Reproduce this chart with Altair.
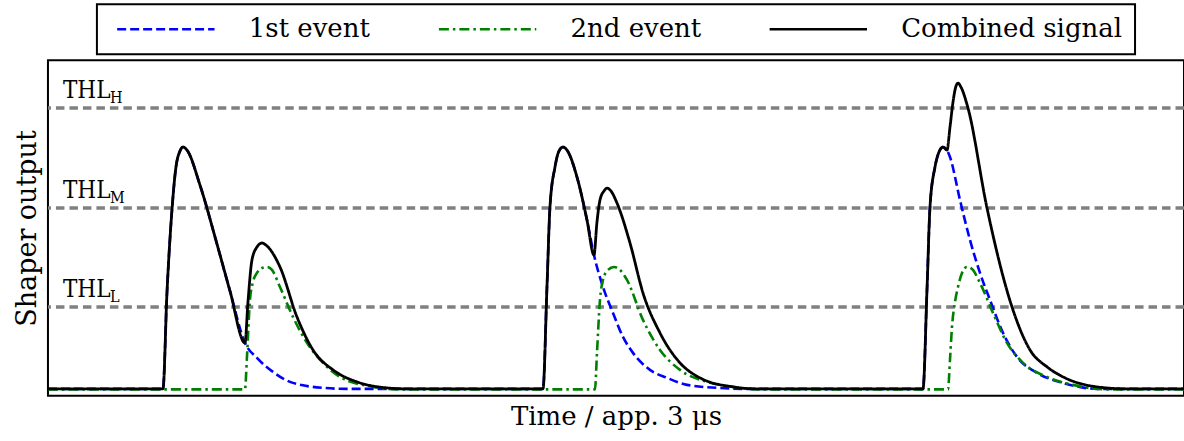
import altair as alt
import pandas as pd

# ---- data (time in arbitrary units, amplitude in arbitrary units)
series_names = ["1st event", "2nd event", "Combined signal"]
series_colors = ["#0000ff", "#008000", "#000000"]
series_dashes = [[9, 4], [10, 4, 2.5, 4], [1, 0]]

combined_t = [1, 116, 120, 125, 129, 133, 136, 140, 153, 170, 183, 198, 201, 205, 210, 215, 220, 233, 250, 266, 286, 310, 340, 360,
              496, 500, 503, 508, 512, 516, 520, 530, 540, 547, 550, 553, 557, 560, 564, 570, 583, 596, 613, 633, 653, 686, 710,
              876, 880, 883, 888, 892, 896, 900, 903, 906, 909, 911, 914, 921, 940, 965, 983, 1000, 1016, 1050, 1080, 1137]
combined_a = [8, 8, 104, 187, 230, 246, 250, 247, 212, 153, 106, 54, 95, 137, 150, 154, 151, 130, 80, 47, 27, 15, 9, 8,
              8, 110, 190, 230, 246, 250, 247, 220, 177, 142, 175, 197, 206, 209, 206, 194, 154, 104, 64, 34, 19, 10, 8,
              8, 107, 190, 230, 245, 250, 247, 270, 295, 311, 314, 310, 289, 189, 90, 47, 30, 20, 10, 8, 8]

first_t = [1, 116, 120, 125, 129, 133, 136, 140, 153, 170, 183, 198, 210, 226, 243, 276, 300,
           496, 500, 503, 508, 512, 516, 520, 530, 540, 547, 556, 566, 576, 586, 603, 620, 640, 670, 700,
           876, 880, 883, 888, 892, 896, 900, 903, 913, 923, 933, 943, 956, 970, 990, 1016, 1050, 1137]
first_a = [8, 8, 104, 187, 230, 246, 250, 247, 212, 153, 106, 54, 39, 25, 15, 9, 8,
           8, 110, 190, 230, 246, 250, 247, 220, 177, 142, 110, 84, 60, 44, 27, 19, 12, 9, 8,
           8, 107, 190, 230, 245, 250, 247, 240, 197, 157, 124, 97, 64, 40, 24, 14, 8, 8]

second_t = [1, 198, 200, 203, 206, 210, 215, 220, 225, 233, 246, 260, 276, 293, 326, 350,
            548, 550, 553, 556, 561, 567, 572, 580, 596, 613, 633, 660, 686, 710,
            901, 903, 905, 908, 911, 915, 920, 925, 933, 946, 960, 976, 1000, 1026, 1060, 1137]
second_a = [7.5, 7.5, 40, 97, 115, 124, 129, 130, 127, 110, 80, 54, 34, 20, 10, 7.5,
            7.5, 44, 97, 117, 127, 130, 128, 117, 77, 47, 27, 15, 10, 7.5,
            7.5, 37, 70, 95, 110, 124, 130, 128, 114, 84, 54, 34, 20, 12, 7.5, 7.5]

thr_values = [90, 189, 289]
thr_subs = ["L", "M", "H"]
thr_main = ["THL", "THL", "THL"]
thr_label_t = [16, 16, 16]

# ---- tables
rows = []
for name, ts, As in zip(series_names, [first_t, second_t, combined_t], [first_a, second_a, combined_a]):
    for i, (t, a) in enumerate(zip(ts, As)):
        rows.append({"series": name, "t": t, "a": a, "i": i})
df = pd.DataFrame(rows)
thr = pd.DataFrame({"a": thr_values, "t": thr_label_t, "main": thr_main, "sub": thr_subs})

FONT = "DejaVu Serif"
THL_FONT = "DejaVu Serif Condensed, DejaVu Serif"

x_enc = alt.X("t:Q", scale=alt.Scale(domain=[1, 1137], nice=False, zero=False),
              axis=alt.Axis(title="Time / app. 3 μs", labels=False, ticks=False, domain=False, grid=False,
                            titlePadding=8, titleFontSize=26))
y_enc = alt.Y("a:Q", scale=alt.Scale(domain=[1, 337], nice=False, zero=False),
              axis=alt.Axis(title="Shaper output", labels=False, ticks=False, domain=False, grid=False,
                            titlePadding=6, titleFontSize=27))

leg = alt.Legend(orient="none", legendX=49, legendY=-56, direction="horizontal", title=None,
                 symbolType="M-5,0H5", symbolSize=380, symbolOffset=44, symbolStrokeWidth=2.5,
                 labelFont=FONT, labelFontSize=26, labelColor="black", labelOffset=70, labelLimit=500,
                 columnPadding=60, padding=12, strokeColor="black")
color_enc = alt.Color("series:N", scale=alt.Scale(domain=series_names, range=series_colors), legend=leg)
dash_enc = alt.StrokeDash("series:N", scale=alt.Scale(domain=series_names, range=series_dashes), legend=leg)

rules = alt.Chart(thr).mark_rule(color="#808080", strokeWidth=3.5, strokeDash=[8.5, 5]).encode(y=y_enc)
lab_main = alt.Chart(thr).mark_text(align="left", baseline="alphabetic", dy=-10, font=THL_FONT, fontSize=24,
                                    color="black").encode(x=x_enc, y=y_enc, text="main:N")
lab_sub = alt.Chart(thr).mark_text(align="left", baseline="alphabetic", dx=47, dy=-5, font=THL_FONT, fontSize=16,
                                   color="black").encode(x=x_enc, y=y_enc, text="sub:N")

def line_layer(name, width):
    return alt.Chart(df).transform_filter(alt.datum.series == name).mark_line(
        interpolate="monotone", strokeWidth=width).encode(
        x=x_enc, y=y_enc, color=color_enc, strokeDash=dash_enc, order="i:Q")

chart = alt.layer(rules, lab_main, lab_sub,
                  line_layer(series_names[0], 2.6), line_layer(series_names[1], 2.6),
                  line_layer(series_names[2], 2.8)
).properties(
    width=1137, height=336,
    padding={"left": 48, "top": 60, "right": 0, "bottom": 45},
    autosize=alt.AutoSizeParams(type="none"),
).configure_view(stroke="black", strokeWidth=2
).configure_axis(titleFont=FONT, titleFontWeight="normal", titleColor="black"
).configure_legend(strokeWidth=2)

chart.save("out.html", embed_options={"renderer": "svg", "actions": False})
